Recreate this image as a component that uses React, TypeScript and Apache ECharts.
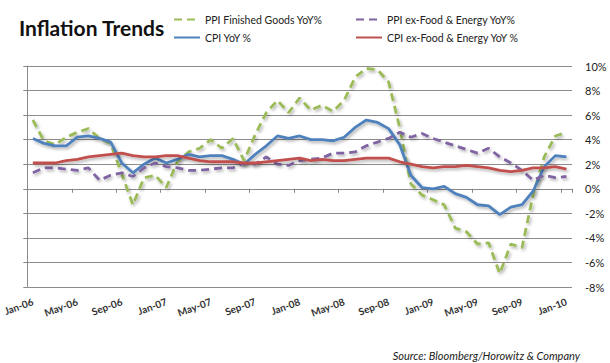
import React, { useEffect, useRef } from "react";
import * as echarts from "echarts";

const months = [
  "Jan-06","Feb-06","Mar-06","Apr-06","May-06","Jun-06","Jul-06","Aug-06","Sep-06","Oct-06","Nov-06","Dec-06",
  "Jan-07","Feb-07","Mar-07","Apr-07","May-07","Jun-07","Jul-07","Aug-07","Sep-07","Oct-07","Nov-07","Dec-07",
  "Jan-08","Feb-08","Mar-08","Apr-08","May-08","Jun-08","Jul-08","Aug-08","Sep-08","Oct-08","Nov-08","Dec-08",
  "Jan-09","Feb-09","Mar-09","Apr-09","May-09","Jun-09","Jul-09","Aug-09","Sep-09","Oct-09","Nov-09","Dec-09",
  "Jan-10",
];

const ppiFinished = [
  5.6, 3.9, 3.6, 4.2, 4.6, 4.9, 4.1, 3.7, 1.2, -1.3, 0.9, 1.1,
  0.1, 2.2, 3.0, 3.3, 4.0, 3.3, 4.1, 2.3, 4.4, 6.2, 7.2, 6.2,
  7.4, 6.4, 6.8, 6.3, 7.2, 9.1, 9.8, 9.7, 8.7, 5.0, 0.4, -0.5,
  -0.9, -1.3, -3.2, -3.5, -4.5, -4.4, -6.9, -4.5, -4.8, -0.5, 2.6, 4.3,
  4.6,
];

const ppiCore = [
  1.3, 1.7, 1.7, 1.6, 1.5, 1.7, 0.7, 1.1, 1.3, 1.0, 1.7, 2.1,
  1.8, 1.7, 1.5, 1.5, 1.6, 1.7, 1.7, 2.1, 2.0, 2.6, 2.0, 1.9,
  2.3, 2.4, 2.5, 2.9, 2.9, 3.0, 3.5, 3.8, 4.1, 4.6, 4.2, 4.5,
  4.1, 3.8, 3.5, 3.2, 2.9, 3.3, 2.6, 2.1, 1.5, 0.7, 1.1, 0.9,
  1.0,
];

const cpi = [
  4.1, 3.7, 3.5, 3.5, 4.2, 4.3, 4.1, 3.8, 2.1, 1.3, 2.0, 2.5,
  2.1, 2.4, 2.8, 2.6, 2.7, 2.7, 2.4, 2.0, 2.8, 3.5, 4.3, 4.1,
  4.3, 4.0, 4.0, 3.9, 4.2, 5.0, 5.6, 5.4, 4.9, 3.6, 1.1, 0.1,
  0.0, 0.2, -0.4, -0.7, -1.3, -1.4, -2.1, -1.5, -1.3, -0.2, 1.8, 2.7,
  2.6,
];

const cpiCore = [
  2.1, 2.1, 2.1, 2.3, 2.4, 2.6, 2.7, 2.8, 2.9, 2.7, 2.6, 2.6,
  2.7, 2.7, 2.5, 2.3, 2.2, 2.2, 2.2, 2.1, 2.1, 2.2, 2.3, 2.4,
  2.5, 2.3, 2.4, 2.3, 2.3, 2.4, 2.5, 2.5, 2.5, 2.2, 2.0, 1.8,
  1.7, 1.8, 1.8, 1.9, 1.8, 1.7, 1.5, 1.4, 1.5, 1.7, 1.7, 1.8,
  1.6,
];

const seriesNames = [
  "PPI Finished Goods YoY%",
  "CPI YoY %",
  "PPI ex-Food & Energy YoY%",
  "CPI ex-Food & Energy YoY %",
];

const FONT = "Lato, 'Open Sans', sans-serif";

export default function App() {
  const ref = useRef<HTMLDivElement>(null);

  useEffect(() => {
    if (!ref.current) return;
    const chart = echarts.init(ref.current, undefined, { renderer: "svg" });

    const shadow = {
      shadowColor: "rgba(0,0,0,0.3)",
      shadowBlur: 3,
      shadowOffsetX: 1.5,
      shadowOffsetY: 2,
    };

    const mk = (name: string, data: number[], color: string, dashed: boolean) => ({
      name,
      type: "line",
      xAxisIndex: 0,
      yAxisIndex: 0,
      data,
      symbol: "none",
      smooth: false,
      lineStyle: {
        color,
        width: 2.8,
        type: dashed ? [8, 5] : "solid",
        ...shadow,
      },
      itemStyle: { color },
      z: 3,
    });

    const legendText = { fontFamily: FONT, fontSize: 10.5, color: "#222" };
    const legendCommon = {
      orient: "vertical",
      top: 9,
      itemWidth: 26,
      itemHeight: 10,
      itemGap: 7,
      itemStyle: { opacity: 0 },
      textStyle: legendText,
    };

    chart.setOption({
      animation: false,
      backgroundColor: "#ffffff",
      title: {
        text: "Inflation Trends",
        left: 14,
        top: 12,
        textStyle: { fontFamily: FONT, fontWeight: "bold", fontSize: 21, color: "#111" },
      },
      graphic: [
        {
          type: "text",
          right: 30,
          bottom: 2,
          style: {
            text: "Source: Bloomberg/Horowitz & Company",
            font: `italic 11px ${FONT}`,
            fill: "#222",
          },
        },
      ],
      legend: [
        { ...legendCommon, left: 168, data: [seriesNames[0], seriesNames[1]] },
        { ...legendCommon, left: 350, data: [seriesNames[2], seriesNames[3]] },
      ],
      grid: { left: 27, right: 38, top: 66, bottom: 76, containLabel: false },
      xAxis: [
        {
          type: "category",
          data: months,
          boundaryGap: true,
          axisLine: { onZero: true, lineStyle: { color: "#888", width: 1 } },
          axisTick: { show: true, interval: 3, length: 4, lineStyle: { color: "#888" } },
          axisLabel: { show: false },
          splitLine: { show: false },
        },
        {
          type: "category",
          data: months,
          boundaryGap: true,
          position: "bottom",
          axisLine: { show: false, onZero: false },
          axisTick: { show: false },
          axisLabel: {
            interval: 3,
            rotate: 20,
            margin: 14,
            fontFamily: FONT,
            fontWeight: "bold",
            fontSize: 10,
            color: "#333",
          },
          splitLine: { show: false },
        },
      ],
      yAxis: [
        {
          type: "value",
          min: -8,
          max: 10,
          interval: 2,
          position: "left",
          axisLine: { show: true, lineStyle: { color: "#888", width: 1 } },
          axisTick: { show: true, length: 4, lineStyle: { color: "#888" } },
          axisLabel: { show: false },
          splitLine: { show: true, lineStyle: { color: "#8c8c8c", width: 1 } },
        },
        {
          type: "value",
          min: -8,
          max: 10,
          interval: 2,
          position: "right",
          axisLine: { show: false },
          axisTick: { show: false },
          axisLabel: {
            margin: 13,
            formatter: "{value}%",
            fontFamily: FONT,
            fontSize: 11,
            color: "#222",
          },
          splitLine: { show: false },
        },
      ],
      series: [
        mk(seriesNames[0], ppiFinished, "#9BBB59", true),
        mk(seriesNames[1], cpi, "#4F81BD", false),
        mk(seriesNames[2], ppiCore, "#8064A2", true),
        mk(seriesNames[3], cpiCore, "#C0504D", false),
      ],
    });

    return () => chart.dispose();
  }, []);

  return (
    <div
      ref={ref}
      style={{ position: "fixed", left: 0, top: 0, width: 610, height: 363, background: "#fff" }}
    />
  );
}
